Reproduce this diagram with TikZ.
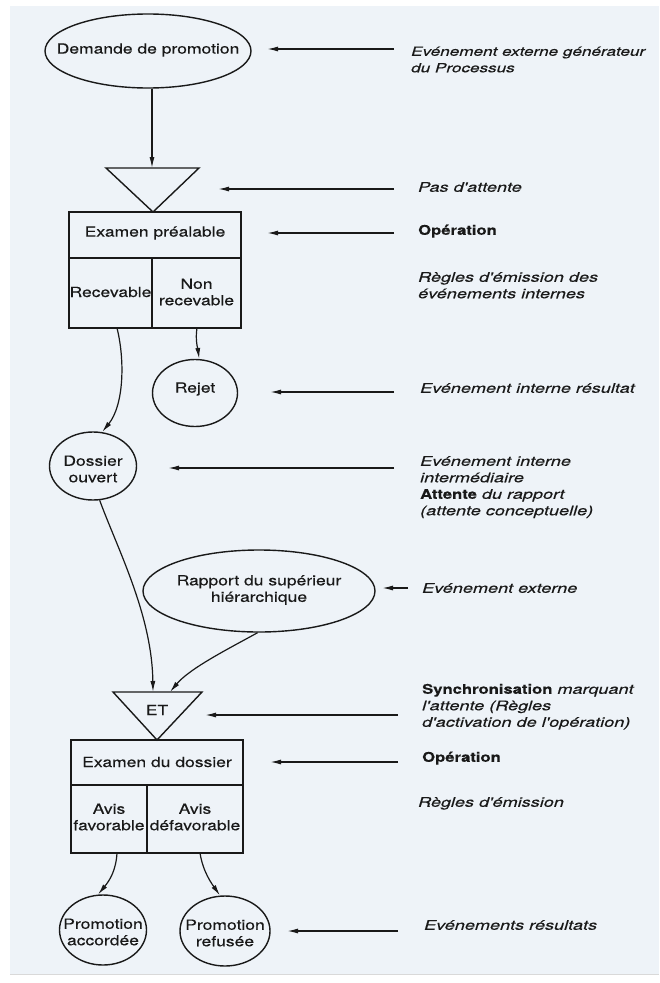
\documentclass[tikz,border=0pt]{standalone}
\usepackage{fontspec}
\setmainfont{TeX Gyre Heros}[FakeStretch=1.25,FakeBold=0.3]
\newfontfamily\notefont{TeX Gyre Heros}[FakeStretch=1.36,FakeBold=0.3]
\usetikzlibrary{shapes.geometric,arrows.meta}
\definecolor{bg}{RGB}{238,243,248}
\definecolor{ink}{RGB}{25,25,25}
\begin{document}
\begin{tikzpicture}[x=1pt,y=-1pt,
  shapeline/.style={draw=ink, line width=1.4pt},
  lbl/.style={font=\fontsize{14}{16.5}\selectfont, text=ink, align=center, inner sep=0pt},
  ev/.style={ellipse, draw=ink, line width=1.4pt, inner sep=0pt},
  opbox/.style={draw=ink, line width=1.4pt, rectangle, inner sep=0pt},
  note/.style={font=\notefont\fontsize{13.3}{16.5}\selectfont\itshape, text=ink, align=left, anchor=north west, inner sep=0pt},
  boldnote/.style={font=\fontsize{13.3}{16.5}\selectfont\bfseries, text=ink, align=left, anchor=north west, inner sep=0pt},
  annot/.style={draw=ink, line width=1.4pt, -{Latex[length=11pt,width=5pt]}},
  flow/.style={draw=ink, line width=1.2pt, -{Latex[length=11pt,width=5pt]}}]
\fill[white] (0,0) rectangle (659,983);
\fill[bg] (10,6) rectangle (659,974);
\draw[black!15, line width=0.8pt] (10,974) -- (659,974);
\useasboundingbox (0,0) rectangle (659,983);

% ---------- top part ----------
\node[ev, minimum width=206pt, minimum height=74pt] (dem) at (148,51) {};
\node[lbl] (demt) at (148,50) {Demande de promotion};

\coordinate (t1l) at (106,168);
\coordinate (t1r) at (199,168);
\coordinate (t1a) at (153,212);
\coordinate (t1top) at (152,168);
\draw[shapeline, line join=miter] (t1l) -- (t1r) -- (t1a) -- cycle;
\draw[flow] (dem.south -| t1top) -- (t1top);

\node[opbox, minimum width=172pt, minimum height=116pt] (op1) at (155,270) {};
\coordinate (op1d) at (152,258);
\draw[shapeline] (op1.west |- op1d) -- (op1.east |- op1d);
\draw[shapeline] (op1d) -- (op1.south -| op1d);
\node[lbl] (op1t) at (155,233) {Examen préalable};
\node[lbl] (rec) at (110.5,292) {Recevable};
\node[lbl] (nrec) at (196.5,292) {Non\\recevable};

\node[ev, minimum width=85pt, minimum height=67pt] (rej) at (195,393) {};
\node[lbl] (rejt) at (195,389) {Rejet};

\node[ev, minimum width=87pt, minimum height=68pt] (dos) at (93,466) {};
\node[lbl] (dost) at (93,469) {Dossier\\ouvert};

\coordinate (recout) at (117,328);
\coordinate (nrecout) at (197,328);
\draw[flow] (recout) .. controls (125,360) and (124,405) .. (dos.75);
\draw[flow] (nrecout) .. controls (195,340) and (198,350) .. (rej.83);

\node[ev, minimum width=232pt, minimum height=82pt] (rap) at (259,591) {};
\node[lbl] (rapt) at (259,590) {Rapport du supérieur\\hiérarchique};

% ---------- bottom part ----------
\coordinate (t2l) at (113,692);
\coordinate (t2r) at (202,692);
\coordinate (t2a) at (157,740);
\coordinate (t2in1) at (153,692);
\coordinate (t2in2) at (170,692);
\draw[shapeline, line join=miter] (t2l) -- (t2r) -- (t2a) -- cycle;
\node[lbl] (et) at (157,710) {ET};

\draw[flow] (dos.281) .. controls (118,550) and (152,615) .. (t2in1);
\draw[flow] (rap.268) .. controls (230,648) and (190,668) .. (t2in2);

\node[opbox, minimum width=172pt, minimum height=113pt] (op2) at (157,796.5) {};
\coordinate (op2d) at (147,785);
\draw[shapeline] (op2.west |- op2d) -- (op2.east |- op2d);
\draw[shapeline] (op2d) -- (op2.south -| op2d);
\node[lbl] (op2t) at (157,762) {Examen du dossier};
\node[lbl] (fav) at (109,817) {Avis\\favorable};
\node[lbl] (dfav) at (195,817) {Avis\\défavorable};

\node[ev, minimum width=87pt, minimum height=70pt] (acc) at (103,930) {};
\node[lbl] (acct) at (103,932) {Promotion\\accordée};
\node[ev, minimum width=90pt, minimum height=70pt] (ref) at (225,931) {};
\node[lbl] (reft) at (225,933) {Promotion\\refusée};

\coordinate (favout) at (117,853);
\coordinate (dfavout) at (200,853);
\draw[flow] (favout) .. controls (116,870) and (110,880) .. (acc.98);
\draw[flow] (dfavout) .. controls (203,872) and (212,884) .. (ref.98);

% ---------- annotations ----------
\coordinate (a1s) at (394,49);   \coordinate (a1e) at (267,49);
\coordinate (a2s) at (394,189);  \coordinate (a2e) at (218,189);
\coordinate (a3s) at (394,233);  \coordinate (a3e) at (267,233);
\coordinate (a4s) at (394,392);  \coordinate (a4e) at (270,392);
\coordinate (a5s) at (394,468);  \coordinate (a5e) at (168,468);
\coordinate (a6s) at (408,588);  \coordinate (a6e) at (382,588);
\coordinate (a7s) at (398,715);  \coordinate (a7e) at (205,715);
\coordinate (a8s) at (398,762);  \coordinate (a8e) at (270,762);
\coordinate (a9s) at (398,931);  \coordinate (a9e) at (287,931);
\foreach \i in {1,...,9} {\draw[annot] (a\i s) -- (a\i e);}

\node[note, font=\notefont\fontsize{12.6}{16.5}\selectfont\itshape] (n1) at (411,44) {\strut Evénement externe générateur\\du Processus};
\node[note] (n2) at (418,180) {\strut Pas d'attente};
\node[boldnote] (n3) at (418,223) {\strut Opération};
\node[note] (n4) at (418,270) {\strut Règles d'émission des\\événements internes};
\node[note] (n5) at (420,381) {\strut Evénement interne résultat};
\node[note] (n6) at (420,454) {\strut Evénement interne\\intermédiaire\\{\rmfamily\upshape\bfseries Attente} du rapport\\(attente conceptuelle)};
\node[note] (n7) at (422,581) {\strut Evénement externe};
\node[note] (n8) at (422,682) {\strut{\rmfamily\upshape\bfseries Synchronisation} marquant\\l'attente (Règles\\d'activation de l'opération)};
\node[boldnote] (n9) at (422,750) {\strut Opération};
\node[note] (n10) at (418,795) {\strut Règles d'émission};
\node[note] (n11) at (424,918) {\strut Evénements résultats};
\end{tikzpicture}
\end{document}
